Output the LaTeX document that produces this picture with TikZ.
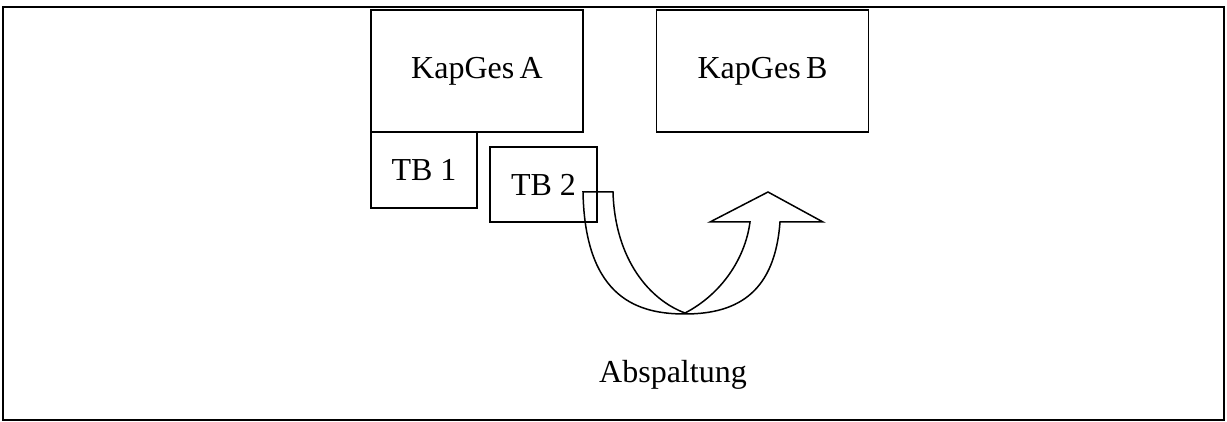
\documentclass[tikz,border=0pt]{standalone}
\usepackage{fontspec}
\setmainfont{Liberation Serif}
\begin{document}
\begin{tikzpicture}[x=0.5pt,y=-0.5pt,
  box/.style={draw, line width=0.75pt, inner sep=0pt, font=\fontsize{16}{18}\selectfont},
  lbl/.style={inner sep=0pt, font=\fontsize{16}{18}\selectfont}]
\useasboundingbox (0,0) rectangle (1227,422);
\node[draw, line width=1pt, minimum width=1221*0.5pt, minimum height=413*0.5pt, inner sep=0pt] (frame) at (613.5,213.5) {};
\node[box, minimum width=212*0.5pt, minimum height=122*0.5pt] (kapA) at (477,71) {KapGes\,A};
\node[box, minimum width=212*0.5pt, minimum height=122*0.5pt] (kapB) at (762.5,71) {KapGes\,B};
\node[box, minimum width=106*0.5pt, minimum height=76*0.5pt] (tb1) at (424,170) {TB 1};
\node[box, minimum width=107*0.5pt, minimum height=75*0.5pt] (tb2) at (543.5,184.5) {TB 2};
\node[lbl, anchor=base] (absp) at (673,383) {Abspaltung};
\coordinate (s) at (583,192);
\draw[line width=0.75pt, line join=miter]
  (s) -- (613,192)
  .. controls (615,260) and (650,300) .. (685,313)
  .. controls (720,295) and (745,260) .. (750,222)
  -- (710,222) -- (768,192) -- (823,222) -- (780,222)
  .. controls (775,290) and (740,314) .. (685,314)
  .. controls (640,314) and (585,300) .. (s) -- cycle;
\end{tikzpicture}
\end{document}
